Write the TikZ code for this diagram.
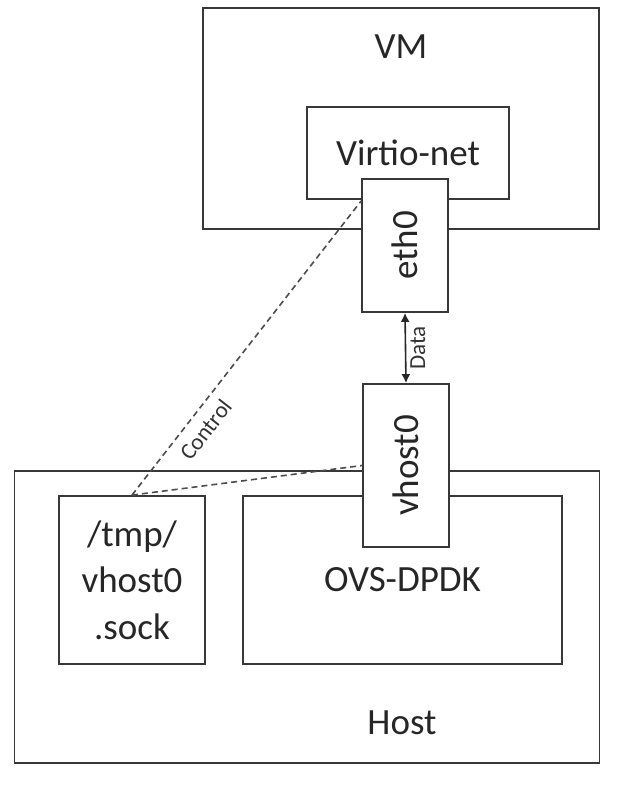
\documentclass[tikz,border=0pt]{standalone}
\usepackage{fontspec}
\setmainfont{Carlito}
\usetikzlibrary{arrows.meta, calc}

\begin{document}
\begin{tikzpicture}[x=1pt, y=-1pt,
  box/.style={draw=black!78, line width=1.8pt, rectangle, inner sep=0pt, text=black!85,
    font=\fontsize{37}{46.5}\selectfont},
  port/.style={box, fill=white, minimum width=86pt},
  link/.style={draw=black!70, line width=1.6pt, dash pattern=on 6pt off 4pt},
  tag/.style={text=black!80, font=\fontsize{23}{27}\selectfont}]
\useasboundingbox (0, 0) rectangle (626, 786);
\draw (401, 118.5) node (vm) [box, minimum width=396pt, minimum height=221pt] {};
\draw (401, 47) node (vmtext) [box, draw=none] {VM};
\draw (408, 153) node (virtio) [box, minimum width=202pt, minimum height=92pt] {Virtio-net};
\draw (405, 245.5) node (eth0) [port, minimum height=133pt] {\rotatebox{90}{eth0}};
\draw (307, 617) node (host) [box, minimum width=585pt, minimum height=292pt] {};
\draw (402, 723) node (hosttext) [box, draw=none] {Host};
\draw (132, 580) node (sock) [box, align=center, minimum width=146pt, minimum height=168pt] {/tmp/\\vhost0\\.sock};
\draw (402.5, 580) node (ovs) [box, minimum width=319pt, minimum height=168pt] {OVS-DPDK};
\draw (406, 465.5) node (vhost0) [port, minimum height=163pt] {\rotatebox{90}{vhost0}};
\draw [<->, >={Latex[length=9pt, width=9pt]}, line width=1.6pt, black!85] (vhost0.north) -- (eth0.south)
      node [midway, rotate=90, anchor=north, tag, inner sep=4pt] {Data};
\draw [link] (sock.north) -- ($(eth0.north west)!0.17!(eth0.south west)$)
      node [pos=0.26, sloped, below=9pt, tag, inner sep=0pt] {Control};
\draw [link] (sock.north) -- (vhost0.west);
\end{tikzpicture}
\end{document}
